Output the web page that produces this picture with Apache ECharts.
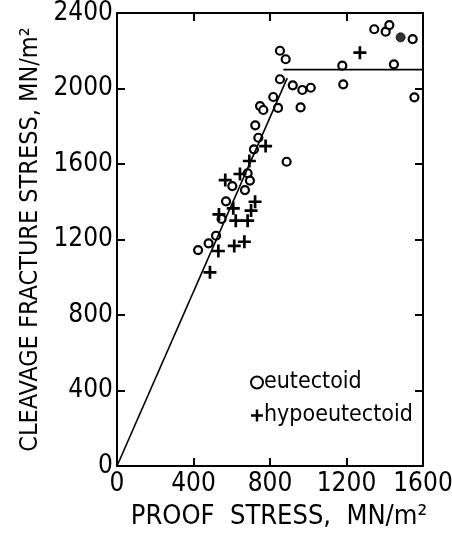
<!DOCTYPE html>
<html>
<head>
    <meta charset="utf-8">
    <title>Cleavage fracture stress</title>
    <script src="https://cdn.jsdelivr.net/npm/echarts@6/dist/echarts.min.js"></script>
    <style>
        html, body { margin: 0; padding: 0; background: #fff; }
        #chart { width: 452px; height: 536px; }
    </style>
</head>
<body>
    <div id="chart"></div>
    <script>
        var FONT = '"DejaVu Sans Condensed", "Liberation Sans Narrow", "DejaVu Sans", sans-serif';

        // values (proof stress, cleavage fracture stress) in MN/m2
        var eutectoid = [
            [852, 2200], [882, 2155], [852, 2049], [919, 2017], [969, 1992], [1013, 2004],
            [817, 1955], [748, 1907], [765, 1886], [842, 1897], [960, 1900], [723, 1805],
            [739, 1739], [1178, 2121], [1183, 2022], [1345, 2314], [1405, 2301], [1424, 2336],
            [1546, 2262], [1448, 2128], [1555, 1953], [716, 1678], [887, 1612], [683, 1551],
            [695, 1512], [603, 1483], [669, 1462], [570, 1402], [547, 1309], [518, 1220],
            [479, 1180], [424, 1144]
        ];
        var eutectoidFilled = [[1483, 2271]];
        var hypoeutectoid = [
            [1270, 2190], [777, 1695], [692, 1616], [643, 1547], [566, 1515], [722, 1400],
            [701, 1353], [608, 1365], [533, 1333], [621, 1300], [683, 1300], [613, 1166],
            [666, 1188], [530, 1139], [486, 1026]
        ];
        var fitLine = [[0, 0], [890, 2055]];
        var plateauLine = [[870, 2100], [1600, 2100]];

        var xTicks = [0, 1600, 400];   // min, max, interval
        var yTicks = [0, 2400, 400];

        var PLUS = 'path://M5,0H7.6V5H12.6V7.6H7.6V12.6H5V7.6H0V5H5Z';

        var chart = echarts.init(document.getElementById('chart'));

        function boxAxis(extra) {
            return Object.assign({
                type: 'value',
                axisLine: { show: true, onZero: false, lineStyle: { color: '#000', width: 2 } },
                axisTick: { show: true, inside: true, length: 8, lineStyle: { color: '#000', width: 2 } },
                splitLine: { show: false }
            }, extra);
        }

        function plain(v) { return String(v); }

        chart.setOption({
            animation: false,
            backgroundColor: '#fff',
            grid: { left: 117, right: 29, top: 13, bottom: 70, containLabel: false, outerBoundsMode: 'none' },
            xAxis: [
                boxAxis({
                    min: xTicks[0], max: xTicks[1], interval: xTicks[2],
                    name: 'PROOF  STRESS,  MN/m²', nameLocation: 'middle', nameGap: 37,
                    nameTextStyle: { fontFamily: FONT, fontSize: 27, color: '#000', padding: [0, 0, 0, 18] },
                    axisLabel: { fontFamily: FONT, fontSize: 26, color: '#000', margin: 5, formatter: plain }
                }),
                boxAxis({
                    position: 'top', min: xTicks[0], max: xTicks[1], interval: xTicks[2],
                    axisLabel: { show: false }
                })
            ],
            yAxis: [
                boxAxis({
                    min: yTicks[0], max: yTicks[1], interval: yTicks[2],
                    name: 'CLEAVAGE FRACTURE STRESS, MN/m²', nameLocation: 'middle', nameGap: 54,
                    nameTextStyle: { fontFamily: FONT, fontSize: 25, color: '#000' },
                    axisLabel: { fontFamily: FONT, fontSize: 26, color: '#000', margin: 4, formatter: plain }
                }),
                boxAxis({
                    position: 'right', min: yTicks[0], max: yTicks[1], interval: yTicks[2],
                    axisLabel: { show: false }
                })
            ],
            legend: {
                orient: 'vertical',
                left: 245,
                top: 366,
                itemGap: 10,
                itemWidth: 12,
                itemHeight: 12,
                textStyle: { fontFamily: FONT, fontSize: 23, color: '#000', padding: [0, 0, 0, -4] },
                data: [
                    { name: 'eutectoid', icon: 'circle', itemStyle: { color: '#fff', borderColor: '#000', borderWidth: 2 } },
                    { name: 'hypoeutectoid', icon: PLUS, itemStyle: { color: '#000', borderWidth: 0 } }
                ]
            },
            series: [
                {
                    type: 'line', data: fitLine, symbol: 'none',
                    lineStyle: { color: '#000', width: 1.6 }, silent: true
                },
                {
                    type: 'line', data: plateauLine, symbol: 'none',
                    lineStyle: { color: '#000', width: 1.6 }, silent: true
                },
                {
                    name: 'eutectoid', type: 'scatter', data: eutectoid,
                    symbol: 'circle', symbolSize: 8,
                    itemStyle: { color: '#fff', borderColor: '#000', borderWidth: 2.2, opacity: 1 }
                },
                {
                    name: 'eutectoid-filled', type: 'scatter', data: eutectoidFilled,
                    symbol: 'circle', symbolSize: 9,
                    itemStyle: { color: '#000', borderColor: '#000', borderWidth: 1 }
                },
                {
                    name: 'hypoeutectoid', type: 'scatter', data: hypoeutectoid,
                    symbol: PLUS, symbolSize: 13,
                    itemStyle: { color: '#000', opacity: 1 }
                }
            ]
        });
    </script>
</body>
</html>
